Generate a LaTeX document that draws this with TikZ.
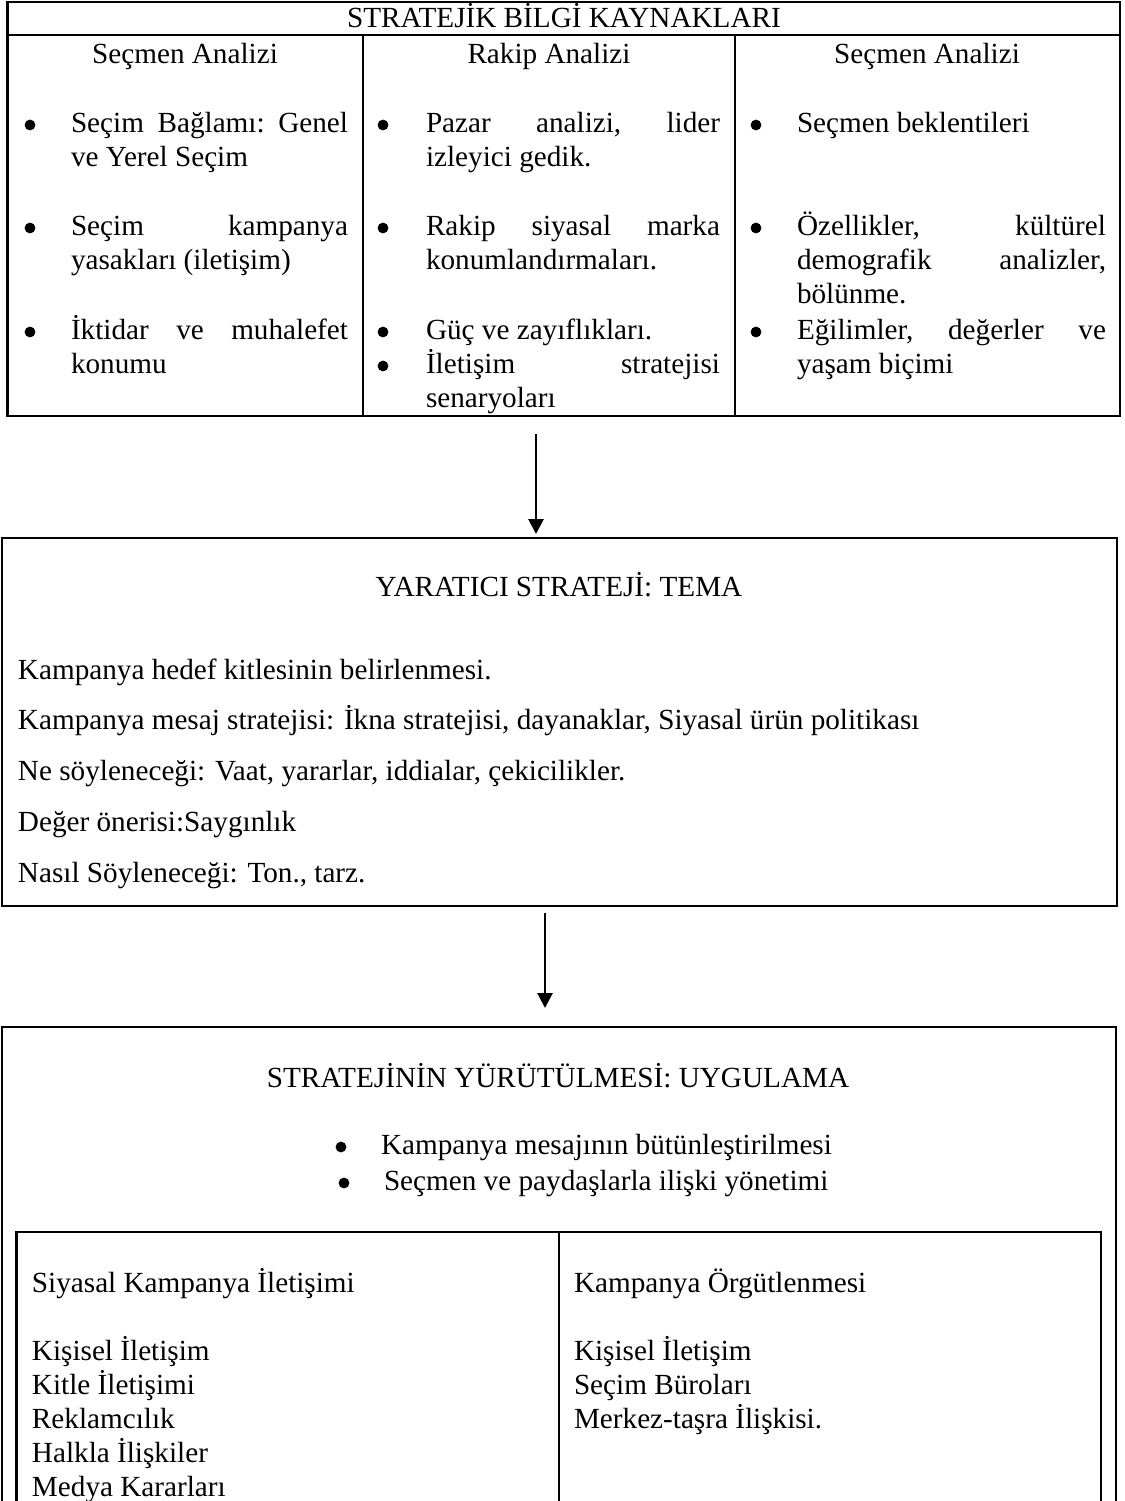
\documentclass[tikz,border=0pt]{standalone}
\usepackage{fontspec}
\setmainfont{Liberation Serif}
\usetikzlibrary{arrows.meta,fit}
\newcommand\jl[2]{\hbox to #1pt{#2}}
\begin{document}
\begin{tikzpicture}[x=0.5pt,y=-0.5pt,
  every node/.style={inner sep=0pt, outer sep=0pt, font=\fontsize{14.6}{17}\selectfont},
  tl/.style={anchor=base west},
  tc/.style={anchor=base},
  bul/.style={circle, fill=black, minimum size=5.4pt},
  frame/.style={draw, line width=1.2pt},
  rule/.style={line width=1.2pt},
  arr/.style={line width=1.4pt, -{Triangle[length=7.5pt,width=7.5pt]}}]
\clip (0,0) rectangle (1125,1501);
\fill[white] (0,0) rectangle (1125,1501);

% ---------- top table ----------
\node[frame, fit={(7.5,2)(1120,416)}] (src) {};
\coordinate (hl) at (7.5,35); \coordinate (hr) at (1120,35);
\draw[rule] (hl) -- (hr);
\coordinate (d1t) at (363,35); \coordinate (d1b) at (363,416);
\coordinate (d2t) at (735,35); \coordinate (d2b) at (735,416);
\draw[rule] (d1t) -- (d1b);
\draw[rule] (d2t) -- (d2b);

\node[tc] (title) at (564,27) {STRATEJİK BİLGİ KAYNAKLARI};
\node[tc] (h1) at (185,63) {Seçmen Analizi};
\node[tc] (h2) at (549,63) {Rakip Analizi};
\node[tc] (h3) at (927,63) {Seçmen Analizi};

% column 1
\node[bul] (b11) at (30,125) {};
\node[tl] (t11a) at (71,132) {\jl{138.5}{Seçim\hfill Bağlamı:\hfill Genel}};
\node[tl] (t11b) at (71,166) {ve Yerel Seçim};
\node[bul] (b12) at (30,228) {};
\node[tl] (t12a) at (71,235) {\jl{138.5}{Seçim\hfill kampanya}};
\node[tl] (t12b) at (71,269) {yasakları (iletişim)};
\node[bul] (b13) at (30,332) {};
\node[tl] (t13a) at (71,339) {\jl{138.5}{İktidar\hfill ve\hfill muhalefet}};
\node[tl] (t13b) at (71,373) {konumu};

% column 2
\node[bul] (b21) at (383,125) {};
\node[tl] (t21a) at (426,132) {\jl{147}{Pazar\hfill analizi,\hfill lider}};
\node[tl] (t21b) at (426,166) {izleyici gedik.};
\node[bul] (b22) at (383,228) {};
\node[tl] (t22a) at (426,235) {\jl{147}{Rakip\hfill siyasal\hfill marka}};
\node[tl] (t22b) at (426,269) {konumlandırmaları.};
\node[bul] (b23) at (383,332) {};
\node[tl] (t23a) at (426,339) {Güç ve zayıflıkları.};
\node[bul] (b24) at (383,366) {};
\node[tl] (t24a) at (426,373) {\jl{147}{İletişim\hfill stratejisi}};
\node[tl] (t24b) at (426,407) {senaryoları};

% column 3
\node[bul] (b31) at (756,125) {};
\node[tl] (t31a) at (797,132) {Seçmen beklentileri};
\node[bul] (b32) at (756,228) {};
\node[tl] (t32a) at (797,235) {\jl{154.5}{Özellikler,\hfill kültürel}};
\node[tl] (t32b) at (797,269) {\jl{154.5}{demografik\hfill analizler,}};
\node[tl] (t32c) at (797,303) {bölünme.};
\node[bul] (b33) at (756,332) {};
\node[tl] (t33a) at (797,339) {\jl{154.5}{Eğilimler,\hfill değerler\hfill ve}};
\node[tl] (t33b) at (797,373) {yaşam biçimi};

% ---------- arrow 1 ----------
\coordinate (a1s) at (536,434);
\coordinate (a1e) at (536,534);
\draw[arr] (a1s) -- (a1e);

% ---------- middle box ----------
\node[frame, fit={(2,538)(1117,906)}] (tema) {};
\node[tc] (temat) at (559,596) {YARATICI STRATEJİ: TEMA};
\node[tl] (m1) at (18,679) {Kampanya hedef kitlesinin belirlenmesi.};
\node[tl] (m2) at (18,729) {Kampanya mesaj stratejisi: İkna stratejisi, dayanaklar, Siyasal ürün politikası};
\node[tl] (m3) at (18,780) {Ne söyleneceği: Vaat, yararlar, iddialar, çekicilikler.};
\node[tl] (m4) at (18,831) {Değer önerisi:Saygınlık};
\node[tl] (m5) at (18,882) {Nasıl Söyleneceği: Ton., tarz.};

% ---------- arrow 2 ----------
\coordinate (a2s) at (545,913);
\coordinate (a2e) at (545,1008);
\draw[arr] (a2s) -- (a2e);

% ---------- bottom box ----------
\node[frame, fit={(2,1027)(1116,1530)}] (uyg) {};
\node[tc] (uygt) at (558,1087) {STRATEJİNİN YÜRÜTÜLMESİ: UYGULAMA};
\node[bul] (ub1) at (341,1147) {};
\node[tl] (u1) at (381,1154) {Kampanya mesajının bütünleştirilmesi};
\node[bul] (ub2) at (344,1183) {};
\node[tl] (u2) at (384,1190) {Seçmen ve paydaşlarla ilişki yönetimi};

\node[frame, fit={(16.5,1232)(1101,1530)}] (inner) {};
\coordinate (d3t) at (559,1232); \coordinate (d3b) at (559,1530);
\draw[rule] (d3t) -- (d3b);

\node[tl] (l0) at (32,1292) {Siyasal Kampanya İletişimi};
\node[tl] (l1) at (32,1360) {Kişisel İletişim};
\node[tl] (l2) at (32,1394) {Kitle İletişimi};
\node[tl] (l3) at (32,1428) {Reklamcılık};
\node[tl] (l4) at (32,1462) {Halkla İlişkiler};
\node[tl] (l5) at (32,1496) {Medya Kararları};

\node[tl] (r0) at (574,1292) {Kampanya Örgütlenmesi};
\node[tl] (r1) at (574,1360) {Kişisel İletişim};
\node[tl] (r2) at (574,1394) {Seçim Büroları};
\node[tl] (r3) at (574,1428) {Merkez-taşra İlişkisi.};
\end{tikzpicture}
\end{document}
